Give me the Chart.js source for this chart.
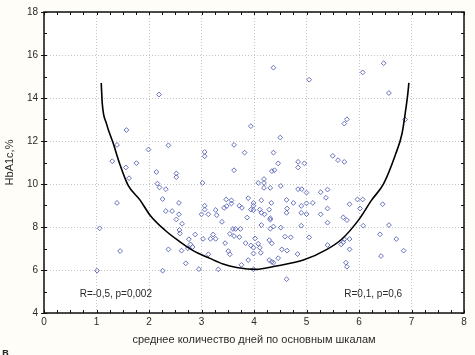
<!DOCTYPE html>
<html>
<head>
<meta charset="utf-8">
<script src="https://cdn.jsdelivr.net/npm/chart.js@4.4.0/dist/chart.umd.min.js"></script>
<style>
  html, body { margin: 0; padding: 0; background: #fffdf8; }
  #wrap { width: 475px; height: 355px; position: relative; }
</style>
</head>
<body>
<div id="wrap"><canvas id="c" width="475" height="355"></canvas></div>
<script>
// scatter values (x: days, y: HbA1c %)
const pointX = [
  4.37, 2.19, 1.57, 3.94, 4.5, 1.39, 1.99, 2.37, 3.06, 3.06, 3.62, 3.82, 4.37, 1.30, 1.56, 1.76,
  1.62, 2.14, 2.52, 2.52, 3.62, 2.16, 2.2, 2.32, 1.39, 2.26, 2.57, 2.32, 2.44, 2.57, 2.52, 2.63,
  2.58, 2.59, 4.34, 4.39, 2.76, 2.79, 2.74, 2.62, 2.37, 2.7, 2.26, 1.01, 1.06, 1.45,
  3.02, 4.08, 4.19, 4.19, 4.31, 4.19, 4.51, 3.06, 3.06, 3.47, 3.57, 3.57, 3.43, 3.48, 3.72, 3.77,
  3.89, 3.99, 3.99, 3.94, 4.14, 4.11, 4.14, 4.29, 4.31, 4.31, 3.0, 3.13, 3.29, 3.39, 3.27, 3.87,
  3.6, 3.65, 3.74, 3.54, 3.72, 4.14, 4.31, 4.37, 4.51, 2.88, 3.03, 3.17, 3.22, 3.27, 3.45, 3.84,
  3.94, 3.99, 4.08, 4.11, 3.99, 4.13, 3.51, 3.54, 4.29, 4.34, 4.46, 3.76, 3.32, 3.99, 2.95, 2.83,
  4.33, 4.2, 3.99, 4.29, 4.34, 4.02, 3.62, 3.13, 4.37, 3.89,
  5.05, 6.07, 6.47, 6.57, 5.77, 5.72, 6.88, 5.5, 5.6, 5.72, 4.84, 4.84, 4.96, 4.46, 4.84, 4.91,
  5.0, 5.27, 5.4, 4.62, 4.75, 4.63, 4.62, 4.9, 5.0, 5.12, 5.37, 5.4, 4.9, 5.0, 5.27, 5.82,
  5.97, 6.07, 6.02, 6.45, 5.7, 5.77, 5.4, 4.9, 6.08, 6.57, 4.59, 4.7, 5.05, 6.4, 6.71, 6.85,
  6.42, 5.72, 5.82, 5.7, 5.66, 5.82, 5.4, 4.53, 4.63, 4.83, 5.75, 5.77, 4.62
];
const pointY = [
  15.41, 14.16, 12.51, 12.69, 12.16, 11.82, 11.6, 11.8, 11.49, 11.29, 11.82, 11.46, 11.46, 11.06, 10.77, 10.97,
  10.27, 10.56, 10.49, 10.32, 10.64, 10.02, 9.84, 9.76, 9.12, 9.3, 9.12, 8.74, 8.74, 8.59, 8.35, 8.15,
  7.86, 7.7, 10.6, 10.64, 7.43, 7.19, 7.01, 6.9, 6.96, 6.31, 5.97, 5.97, 7.94, 6.88,
  10.05, 10.05, 10.23, 10.05, 9.82, 9.82, 9.91, 8.99, 8.81, 9.28, 9.24, 9.09, 8.89, 8.97, 8.99, 8.89,
  9.34, 8.99, 8.78, 8.81, 9.24, 8.81, 8.66, 8.81, 8.41, 8.34, 8.59, 8.59, 8.55, 8.24, 8.79, 8.44,
  7.91, 7.91, 7.91, 7.68, 7.53, 8.09, 7.92, 8.02, 7.97, 7.65, 7.45, 7.45, 7.65, 7.45, 7.25, 7.25,
  7.14, 7.04, 7.22, 7.04, 6.77, 6.8, 6.88, 6.73, 6.46, 6.38, 6.55, 6.24, 6.03, 6.03, 6.04, 7.07,
  9.12, 8.59, 9.12, 7.39, 7.24, 7.47, 7.58, 6.73, 6.34, 6.46,
  14.85, 15.19, 15.62, 14.23, 13.01, 12.81, 13.0, 11.31, 11.11, 11.03, 11.03, 10.77, 10.96, 10.96, 9.76, 9.76,
  9.6, 9.62, 9.74, 9.26, 9.12, 8.86, 8.66, 8.98, 9.1, 9.12, 9.36, 8.86, 8.66, 8.6, 8.59, 9.06,
  9.28, 9.28, 8.86, 9.06, 8.45, 8.32, 8.2, 8.06, 8.06, 8.09, 7.55, 7.52, 7.52, 7.66, 7.44, 6.9,
  6.65, 7.43, 7.44, 7.29, 7.19, 6.96, 7.16, 6.96, 6.9, 6.74, 6.34, 6.15, 5.57
];

// fitted U-shaped curve
const curveX = [1.09, 1.11, 1.19, 1.32, 1.44, 1.60, 1.83, 2.02, 2.30, 2.59, 2.84, 3.16, 3.41, 3.67,
  4.05, 4.37, 4.94, 5.39, 5.67, 5.99, 6.24, 6.47, 6.69, 6.82, 6.88, 6.93, 6.95];
const curveY = [14.7, 13.74, 12.81, 11.88, 10.95, 9.95, 9.25, 8.55, 7.86, 7.31, 6.9, 6.54, 6.28, 6.12,
  6.03, 6.16, 6.46, 6.96, 7.43, 8.32, 9.25, 10.02, 11.34, 12.35, 13.28, 14.2, 14.7];

const xTicks = [0, 1, 2, 3, 4, 5, 6, 7, 8];
const yTicks = [4, 6, 8, 10, 12, 14, 16, 18];
const xTitle = 'среднее количество дней по основным шкалам';
const yTitle = 'HbA1c,%';
const noteLeft = 'R=-0,5, p=0,002';
const noteRight = 'R=0,1, p=0,6';
const panelLabel = 'в';

const FONT = '"Liberation Sans", Arial, sans-serif';
const TEXT = '#2a2a2a';

// frame, small inward ticks and the two notes
const framePlugin = {
  id: 'frame',
  beforeDraw(chart) {
    const { ctx, chartArea: a } = chart;
    ctx.save();
    ctx.fillStyle = '#ffffff';
    ctx.fillRect(a.left, a.top, a.right - a.left, a.bottom - a.top);
    ctx.restore();
  },
  afterDraw(chart) {
    const { ctx, chartArea: a, scales: { x, y } } = chart;
    ctx.save();
    ctx.strokeStyle = '#111';
    ctx.lineWidth = 1;
    // minor ticks on top and bottom
    for (let v = 0; v <= 8; v += 0.25) {
      const px = Math.round(x.getPixelForValue(v)) + 0.5;
      ctx.beginPath();
      ctx.moveTo(px, a.top); ctx.lineTo(px, a.top + 3);
      ctx.moveTo(px, a.bottom); ctx.lineTo(px, a.bottom - 3);
      ctx.stroke();
    }
    for (let v = 4; v <= 18; v += 1) {
      const py = Math.round(y.getPixelForValue(v)) + 0.5;
      ctx.beginPath();
      ctx.moveTo(a.left, py); ctx.lineTo(a.left + 3, py);
      ctx.moveTo(a.right, py); ctx.lineTo(a.right - 3, py);
      if (v % 2 === 0) { ctx.moveTo(a.left, py); ctx.lineTo(a.left - 3, py); }
      ctx.stroke();
    }
    ctx.lineWidth = 1.5;
    ctx.strokeRect(a.left, a.top, a.right - a.left, a.bottom - a.top);

    ctx.fillStyle = TEXT;
    ctx.font = '10px ' + FONT;
    ctx.textBaseline = 'middle';
    ctx.textAlign = 'left';
    ctx.fillText(noteLeft, x.getPixelForValue(0.68), y.getPixelForValue(4.85));
    ctx.fillText(noteRight, x.getPixelForValue(5.72), y.getPixelForValue(4.85));

    ctx.font = 'bold 11px ' + FONT;
    ctx.textBaseline = 'top';
    ctx.fillText(panelLabel, 2, 347);
    ctx.restore();
  }
};

new Chart(document.getElementById('c'), {
  type: 'scatter',
  data: {
    datasets: [
      {
        type: 'line',
        label: 'fit',
        data: curveX.map((v, i) => ({ x: v, y: curveY[i] })),
        borderColor: '#000',
        borderWidth: 1.6,
        pointRadius: 0,
        fill: false,
        cubicInterpolationMode: 'monotone',
        order: 1
      },
      {
        label: 'HbA1c',
        data: pointX.map((v, i) => ({ x: v, y: pointY[i] })),
        pointStyle: 'rectRot',
        pointRadius: 2.4,
        borderWidth: 0.9,
        borderColor: '#5763b3',
        backgroundColor: 'rgba(255,255,255,0)',
        order: 2
      }
    ]
  },
  options: {
    responsive: false,
    animation: false,
    layout: { padding: { left: 0, top: 11, right: 11, bottom: 0 } },
    plugins: { legend: { display: false }, tooltip: { enabled: false } },
    scales: {
      x: {
        type: 'linear', min: 0, max: 8,
        afterFit: s => { s.height = 42; },
        afterBuildTicks: s => { s.ticks = xTicks.map(v => ({ value: v })); },
        ticks: { color: TEXT, font: { family: FONT, size: 10 }, padding: 3 },
        grid: { color: '#c4c4c4', drawTicks: false, lineWidth: 1 },
        border: { display: false, dash: [1, 2] },
        title: { display: true, text: xTitle, color: TEXT, font: { family: FONT, size: 11 }, padding: { top: 0, bottom: 8 } }
      },
      y: {
        type: 'linear', min: 4, max: 18,
        afterFit: s => { s.width = 44; },
        afterBuildTicks: s => { s.ticks = yTicks.map(v => ({ value: v })); },
        ticks: { color: TEXT, font: { family: FONT, size: 10 }, padding: 6 },
        grid: { color: '#c4c4c4', drawTicks: false, lineWidth: 1 },
        border: { display: false, dash: [1, 2] },
        title: { display: true, text: yTitle, color: TEXT, font: { family: FONT, size: 11 }, padding: { top: 3, bottom: 0 } }
      }
    }
  },
  plugins: [framePlugin]
});
</script>
</body>
</html>
